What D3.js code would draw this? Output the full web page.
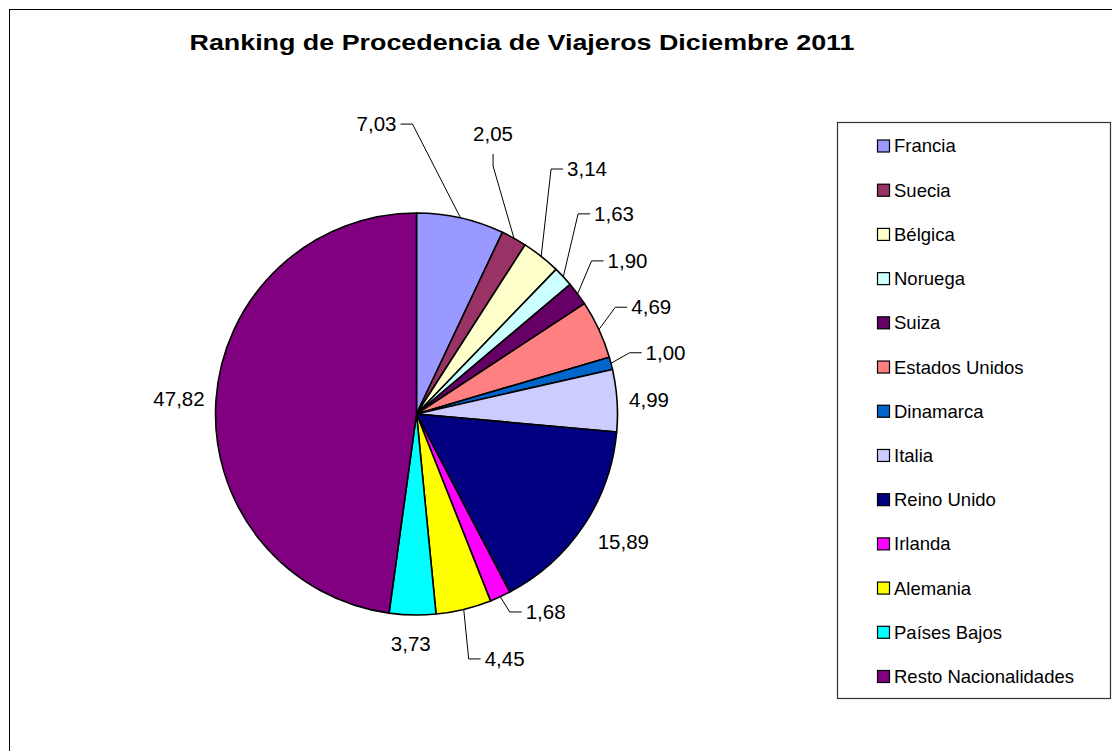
<!DOCTYPE html>
<html><head><meta charset="utf-8">
<script src="https://cdn.jsdelivr.net/npm/d3@7"></script>
<style>
body{margin:0;background:#fff;}
svg{display:block;}
text{font-family:"Liberation Sans",Arial,sans-serif;fill:#000;}
</style>
</head><body>
<svg id="c" width="1112" height="751"></svg>
<script>
const title = "Ranking de Procedencia de Viajeros Diciembre 2011";
const categories = ["Francia","Suecia","Bélgica","Noruega","Suiza","Estados Unidos","Dinamarca","Italia","Reino Unido","Irlanda","Alemania","Países Bajos","Resto Nacionalidades"];
const values = [7.03,2.05,3.14,1.63,1.90,4.69,1.00,4.99,15.89,1.68,4.45,3.73,47.82];
const colors = ["#9999FF","#993366","#FFFFCC","#CCFFFF","#660066","#FF8080","#0066CC","#CCCCFF","#000080","#FF00FF","#FFFF00","#00FFFF","#800080"];
// label placement: angular shift (deg) from slice middle, distance as fraction of radius, leader line flag
const labelShift = [-20.5,-13.7,-3.5,-2.3,0.75,0.4,0.8,0.35,-2,-8.5,-6.2,0.3,-0.3];
const labelDist  = [1.456,1.444,1.485,1.399,1.297,1.283,1.276,1.159,1.210,1.176,1.295,1.145,1.184];
const labelLeader = [1,1,1,1,1,1,1,0,0,1,1,0,0];

const svg = d3.select("#c");
const W = 1112, H = 751;

// outer chart border
svg.append("rect").attr("x",9.5).attr("y",9.5).attr("width",W+20).attr("height",H+20)
  .attr("fill","#fff").attr("stroke","#000").attr("stroke-width",1);

// title
svg.append("text").attr("x",522).attr("y",50).attr("text-anchor","middle")
  .style("font-size","22px").style("font-weight","bold")
  .attr("textLength",665).attr("lengthAdjust","spacingAndGlyphs")
  .text(title);

const cx = 416.5, cy = 414, R = 201;
const color = d3.scaleOrdinal().domain(categories).range(colors);
const pie = d3.pie().sort(null).value(d => d.v);
const data = categories.map((c,i) => ({c, v: values[i], i}));
const arcs = pie(data);
const arc = d3.arc().innerRadius(0).outerRadius(R);

const g = svg.append("g").attr("transform",`translate(${cx},${cy})`);
g.selectAll("path.s").data(arcs).join("path").attr("class","s")
  .attr("d",arc).attr("fill",d => color(d.data.c))
  .attr("stroke","#000").attr("stroke-width",1.6).attr("stroke-linejoin","round");

const loc = d3.formatLocale({decimal:",",thousands:".",grouping:[3],currency:["","€"]});
const fmt = loc.format(".2f");

const polar = (a, r) => [r*Math.sin(a), -r*Math.cos(a)];

arcs.forEach((d,i) => {
  const mid = (d.startAngle + d.endAngle)/2;
  const la = mid + labelShift[i]*Math.PI/180;
  const [lx, ly] = polar(la, R*labelDist[i]);
  const t = g.append("text").attr("x",lx).attr("y",ly).attr("dy","0.35em")
    .attr("text-anchor","middle").style("font-size","20.5px").text(fmt(d.data.v));
  if (labelLeader[i]) {
    const hw = t.node().getComputedTextLength()/2;
    const [ex, ey] = polar(mid, R);
    const dx = ex - lx, dy = ey - ly;
    let pts;
    if (Math.abs(dy) > 3*Math.abs(dx)) {
      const s = dy > 0 ? 1 : -1;
      const endY = ly + s*20;
      pts = [[ex,ey],[lx,endY + s*12],[lx,endY]];
    } else {
      const s = dx > 0 ? 1 : -1;
      const endX = lx + s*(hw+4);
      pts = [[ex,ey],[endX + s*12, ly],[endX, ly]];
    }
    g.append("path").attr("d", d3.line()(pts)).attr("fill","none")
      .attr("stroke","#000").attr("stroke-width",1);
  }
});

// legend
const lg = svg.append("g");
lg.append("rect").attr("x",837.5).attr("y",122.5).attr("width",273).attr("height",576)
  .attr("fill","#fff").attr("stroke","#333").attr("stroke-width",1.2);
const ly = d3.scalePoint().domain(categories).range([146, 676.5]);
const items = lg.selectAll("g.it").data(categories).join("g").attr("class","it")
  .attr("transform", c => `translate(0,${ly(c)})`);
items.append("rect").attr("x",877.5).attr("y",-6).attr("width",12).attr("height",12)
  .attr("fill", c => color(c)).attr("stroke","#000").attr("stroke-width",1.2);
items.append("text").attr("x",894).attr("dy","0.35em").style("font-size","18.5px").text(c => c);
</script>
</body></html>
